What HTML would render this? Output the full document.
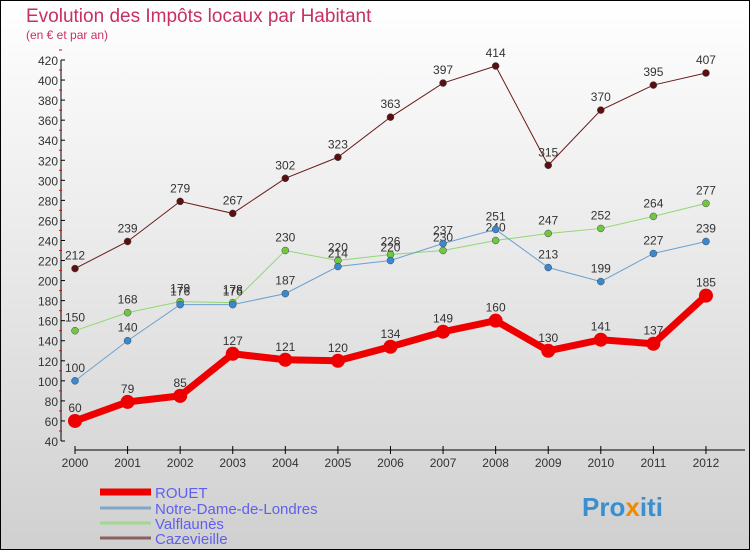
<!DOCTYPE html>
<html><head><meta charset="utf-8"><style>
body{margin:0;width:750px;height:550px;overflow:hidden}
svg{display:block;font-family:"Liberation Sans",sans-serif}
</style></head><body>
<svg id="c" width="750" height="550">
<defs><linearGradient id="bg" x1="0" y1="0" x2="0" y2="1"><stop offset="0" stop-color="#ffffff"/><stop offset="1" stop-color="#d0d0d0"/></linearGradient></defs>
<rect x="0.5" y="0.5" width="749" height="549" fill="url(#bg)" stroke="#000"/>
<text x="26" y="22" font-size="19" fill="#c8305f">Evolution des Impôts locaux par Habitant</text>
<text x="26" y="39" font-size="12" fill="#c8305f">(en € et par an)</text>
<g id="axes"></g><g id="series"></g><g id="legend"></g>
<text x="582" y="516" font-size="26" font-weight="bold" fill="#3a8fd0">Pro<tspan fill="#f08a00">x</tspan>iti</text>
</svg>
<script>
const years=[2000,2001,2002,2003,2004,2005,2006,2007,2008,2009,2010,2011,2012];
const rouet=[60,79,85,127,121,120,134,149,160,130,141,137,185];
const notreDame=[100,140,176,176,187,214,220,237,251,213,199,227,239];
const valflaunes=[150,168,179,178,230,220,226,230,240,247,252,264,277];
const cazevieille=[212,239,279,267,302,323,363,397,414,315,370,395,407];
const yTicks=[40,60,80,100,120,140,160,180,200,220,240,260,280,300,320,340,360,380,400,420];
const NS='http://www.w3.org/2000/svg';
const xs=i=>75+i*52.58;
const ys=v=>441-(v-40)*(381/380);
function mk(t,a,p,txt){const e=document.createElementNS(NS,t);for(const k in a)e.setAttribute(k,a[k]);if(txt!==undefined)e.textContent=txt;p.appendChild(e);return e;}
const ax=document.getElementById('axes');
let yl=mk('line',{x1:61,y1:ys(420),x2:61,y2:ys(40),stroke:'#000'},ax);


yTicks.forEach(v=>{
 const t=mk('line',{x1:61,y1:ys(v),x2:65,y2:ys(v),stroke:'#000'},ax);
 
 
 const m=mk('line',{x1:59,y1:ys(v+10),x2:62,y2:ys(v+10),stroke:'#e00'},ax);
 
 
 const l=mk('text',{x:58,y:ys(v)+5,'font-size':12,fill:'#333','text-anchor':'end'},ax,v);
 
 
});
let xl=mk('line',{x1:75,y1:450,x2:745,y2:450,stroke:'#000'},ax);


years.forEach((y,i)=>{
 const t=mk('line',{x1:xs(i),y1:446,x2:xs(i),y2:454,stroke:'#000'},ax);
 
 
 const l=mk('text',{x:xs(i),y:467,'font-size':12,fill:'#333','text-anchor':'middle'},ax,y);
 
 
});
const sg=document.getElementById('series');
const series=[
 {name:'cazevieille',data:cazevieille,color:'#6b1a1a',w:1,r:3.5,fill:'#5a1010'},
 {name:'valflaunes',data:valflaunes,color:'#90d870',w:1,r:3.5,fill:'#70c840'},
 {name:'notre-dame-de-londres',data:notreDame,color:'#6aa0d0',w:1,r:3.5,fill:'#3a88d0'},
 {name:'rouet',data:rouet,color:'#ee0000',w:7,r:7,fill:'#ee0000'}
];
series.forEach(s=>{
 const g=mk('g',{},sg);
 
 
 const pl=mk('polyline',{points:s.data.map((v,i)=>xs(i)+','+ys(v)).join(' '),fill:'none',stroke:s.color,'stroke-width':s.w},g);
 
 
 s.data.forEach((v,i)=>{
  const c=mk('circle',{cx:xs(i),cy:ys(v),r:s.r,fill:s.fill,stroke:s.w>1?'none':'#444','stroke-width':0.5},g);
  
  
  const l=mk('text',{x:xs(i),y:ys(v)-9,'font-size':12,fill:'#333','text-anchor':'middle'},g,v);
  
  
 });
});
const lg=document.getElementById('legend');
const leg=[['ROUET','#ee0000',7,492],['Notre-Dame-de-Londres','#7fa8c8',3,508],['Valflaunès','#a0d890',3,523],['Cazevieille','#8a6060',3,538]];
leg.forEach(e=>{
 const g=mk('g',{},lg);
 
 
 mk('line',{x1:100,y1:e[3],x2:151,y2:e[3],stroke:e[1],'stroke-width':e[2]},g);
 mk('text',{x:155,y:e[3]+6,'font-size':15,fill:'#6060ee'},g,e[0]);
});
</script>
</body></html>
